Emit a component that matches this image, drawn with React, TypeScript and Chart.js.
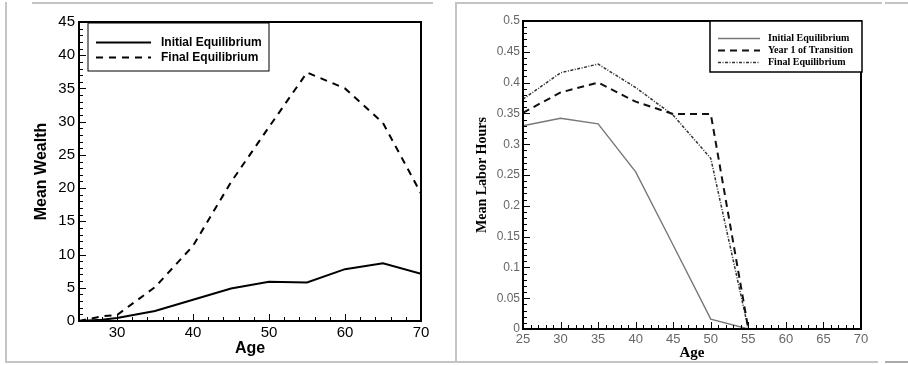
import React, { useEffect, useRef } from "react";
import { Chart, registerables } from "chart.js";

Chart.register(...registerables);

// ---------- Left panel: Mean Wealth ----------
const wealthAges = [25, 28, 30, 35, 40, 45, 50, 55, 60, 65, 70];
const wealthInitial = [0, 0.2, 0.45, 1.5, 3.2, 4.9, 5.9, 5.8, 7.8, 8.7, 7.1];
const wealthFinal = [0, 0.7, 0.9, 5.1, 11.3, 20.9, 29.2, 37.4, 35.0, 29.8, 19.2];
const wealthXTicks = [30, 40, 50, 60, 70];
const wealthYTicks = [0, 5, 10, 15, 20, 25, 30, 35, 40, 45];

// ---------- Right panel: Mean Labor Hours ----------
const laborAges = [25, 30, 35, 40, 45, 50, 55];
const laborInitial = [0.33, 0.342, 0.333, 0.255, 0.136, 0.016, 0];
const laborYear1 = [0.351, 0.384, 0.4, 0.369, 0.349, 0.349, 0];
const laborFinal = [0.373, 0.416, 0.43, 0.392, 0.347, 0.277, 0];
const laborXTicks = [25, 30, 35, 40, 45, 50, 55, 60, 65, 70];
const laborYTicks = [0, 0.05, 0.1, 0.15, 0.2, 0.25, 0.3, 0.35, 0.4, 0.45, 0.5];

const SANS = "'Liberation Sans', Arial, sans-serif";
const SERIF = "'Liberation Serif', 'Times New Roman', serif";

const toPoints = (xs: number[], ys: number[]) => xs.map((x, i) => ({ x, y: ys[i] }));

function range(min: number, max: number, step: number) {
  const out: number[] = [];
  const n = Math.round((max - min) / step);
  for (let i = 0; i <= n; i++) out.push(+(min + i * step).toFixed(4));
  return out;
}

type TickCfg = {
  xMajor: number[];
  xMinor: number[];
  yMajor: number[];
  yMinor: number[];
  majorLen: number;
  minorLen: number;
  tickWidth: number;
  frameWidth: number;
};

function makeFrameTicks(o: TickCfg) {
  return {
    id: "frameTicks",
    afterDatasetsDraw(chart: any) {
      const { ctx, chartArea } = chart;
      const { left, right, top, bottom } = chartArea;
      const xs = chart.scales.x;
      const ys = chart.scales.y;
      ctx.save();
      ctx.strokeStyle = "#000";
      ctx.lineWidth = o.tickWidth;
      ctx.setLineDash([]);
      const drawX = (vals: number[], len: number) => {
        for (const v of vals) {
          const px = Math.round(xs.getPixelForValue(v)) + 0.5;
          ctx.beginPath();
          ctx.moveTo(px, bottom);
          ctx.lineTo(px, bottom - len);
          ctx.stroke();
        }
      };
      const drawY = (vals: number[], len: number) => {
        for (const v of vals) {
          const py = Math.round(ys.getPixelForValue(v)) + 0.5;
          ctx.beginPath();
          ctx.moveTo(left, py);
          ctx.lineTo(left + len, py);
          ctx.stroke();
        }
      };
      drawX(o.xMinor, o.minorLen);
      drawX(o.xMajor, o.majorLen);
      drawY(o.yMinor, o.minorLen);
      drawY(o.yMajor, o.majorLen);
      ctx.lineWidth = o.frameWidth;
      ctx.strokeRect(left, top, right - left, bottom - top);
      ctx.restore();
    },
  };
}

type LegCfg = {
  anchor: "left" | "right";
  dx: number;
  dy: number;
  width: number;
  height: number;
  boxWidth: number;
  firstRow: number;
  rowGap: number;
  sampleStart: number;
  sampleEnd: number;
  textX: number;
  font: string;
};

function makeBoxLegend(o: LegCfg) {
  return {
    id: "boxLegend",
    afterDraw(chart: any) {
      const { ctx, chartArea } = chart;
      const bx = o.anchor === "right" ? chartArea.right - o.width + o.dx : chartArea.left + o.dx;
      const by = chartArea.top + o.dy;
      ctx.save();
      ctx.fillStyle = "#fff";
      ctx.fillRect(bx, by, o.width, o.height);
      ctx.strokeStyle = "#000";
      ctx.lineWidth = o.boxWidth;
      ctx.setLineDash([]);
      ctx.strokeRect(bx, by, o.width, o.height);
      ctx.font = o.font;
      ctx.textBaseline = "middle";
      ctx.textAlign = "left";
      chart.data.datasets.forEach((ds: any, i: number) => {
        const y = Math.round(by + o.firstRow + i * o.rowGap) + 0.5;
        ctx.strokeStyle = ds.borderColor;
        ctx.lineWidth = ds.borderWidth;
        ctx.setLineDash(ds.borderDash || []);
        ctx.beginPath();
        ctx.moveTo(bx + o.sampleStart, y);
        ctx.lineTo(bx + o.sampleEnd, y);
        ctx.stroke();
        ctx.setLineDash([]);
        ctx.fillStyle = "#000";
        ctx.fillText(ds.label, bx + o.textX, y);
      });
      ctx.restore();
    },
  };
}

function WealthChart() {
  const ref = useRef<HTMLCanvasElement>(null);
  useEffect(() => {
    const chart = new Chart(ref.current as HTMLCanvasElement, {
      type: "line",
      data: {
        datasets: [
          {
            label: "Initial Equilibrium",
            data: toPoints(wealthAges, wealthInitial),
            borderColor: "#000",
            borderWidth: 2,
            pointRadius: 0,
            tension: 0,
          },
          {
            label: "Final Equilibrium",
            data: toPoints(wealthAges, wealthFinal),
            borderColor: "#000",
            borderWidth: 2,
            borderDash: [7, 6],
            pointRadius: 0,
            tension: 0,
          },
        ],
      },
      options: {
        animation: false,
        responsive: false,
        layout: { padding: { left: 0, right: 33, top: 22, bottom: 0 } },
        plugins: {
          legend: { display: false },
          tooltip: { enabled: false },
        },
        scales: {
          x: {
            type: "linear",
            min: 25,
            max: 70,
            afterFit: (a: any) => {
              a.height = 41;
            },
            afterBuildTicks: (a: any) => {
              a.ticks = wealthXTicks.map((v) => ({ value: v }));
            },
            grid: { display: false, drawTicks: false },
            border: { display: false },
            ticks: {
              autoSkip: false,
              maxRotation: 0,
              padding: 3,
              color: "#000",
              font: { family: SANS, size: 15 },
            },
            title: {
              display: true,
              text: "Age",
              color: "#000",
              font: { family: SANS, size: 16, weight: "bold" },
              padding: { top: 0, bottom: 4 },
            },
          },
          y: {
            type: "linear",
            min: 0,
            max: 45,
            afterFit: (a: any) => {
              a.width = 79;
            },
            afterBuildTicks: (a: any) => {
              a.ticks = wealthYTicks.map((v) => ({ value: v }));
            },
            grid: { display: false, drawTicks: false },
            border: { display: false },
            ticks: {
              autoSkip: false,
              padding: 4,
              color: "#000",
              font: { family: SANS, size: 15 },
            },
            title: {
              display: true,
              text: "Mean Wealth",
              color: "#000",
              font: { family: SANS, size: 16, weight: "bold" },
              padding: { top: 32, bottom: 0 },
            },
          },
        },
      },
      plugins: [
        makeFrameTicks({
          xMajor: wealthXTicks,
          xMinor: range(26, 70, 2),
          yMajor: wealthYTicks,
          yMinor: range(0, 45, 1),
          majorLen: 7,
          minorLen: 4,
          tickWidth: 1,
          frameWidth: 2,
        }),
        makeBoxLegend({
          anchor: "left",
          dx: 9,
          dy: 1,
          width: 181,
          height: 48,
          boxWidth: 1,
          firstRow: 19,
          rowGap: 15,
          sampleStart: 8,
          sampleEnd: 63,
          textX: 73,
          font: `bold 12px ${SANS}`,
        }),
      ],
    });
    return () => chart.destroy();
  }, []);
  return <canvas ref={ref} width={454} height={362} />;
}

function LaborChart() {
  const ref = useRef<HTMLCanvasElement>(null);
  useEffect(() => {
    const chart = new Chart(ref.current as HTMLCanvasElement, {
      type: "line",
      data: {
        datasets: [
          {
            label: "Initial Equilibrium",
            data: toPoints(laborAges, laborInitial),
            borderColor: "#777",
            borderWidth: 1.4,
            pointRadius: 0,
            tension: 0,
          },
          {
            label: "Year 1 of Transition",
            data: toPoints(laborAges, laborYear1),
            borderColor: "#111",
            borderWidth: 2,
            borderDash: [7, 5],
            pointRadius: 0,
            tension: 0,
          },
          {
            label: "Final Equilibrium",
            data: toPoints(laborAges, laborFinal),
            borderColor: "#333",
            borderWidth: 1.5,
            borderDash: [3, 1.5, 1, 1.5],
            pointRadius: 0,
            tension: 0,
          },
        ],
      },
      options: {
        animation: false,
        responsive: false,
        layout: { padding: { left: 0, right: 45, top: 21, bottom: 0 } },
        plugins: {
          legend: { display: false },
          tooltip: { enabled: false },
        },
        scales: {
          x: {
            type: "linear",
            min: 25,
            max: 70,
            afterFit: (a: any) => {
              a.height = 33;
            },
            afterBuildTicks: (a: any) => {
              a.ticks = laborXTicks.map((v) => ({ value: v }));
            },
            grid: { display: false, drawTicks: false },
            border: { display: false },
            ticks: {
              autoSkip: false,
              maxRotation: 0,
              padding: 3,
              color: "#666",
              font: { family: SANS, size: 13 },
            },
            title: {
              display: true,
              text: "Age",
              color: "#000",
              font: { family: SERIF, size: 15, weight: "bold" },
              padding: { top: 0, bottom: 0 },
            },
          },
          y: {
            type: "linear",
            min: 0,
            max: 0.5,
            afterFit: (a: any) => {
              a.width = 67;
            },
            afterBuildTicks: (a: any) => {
              a.ticks = laborYTicks.map((v) => ({ value: v }));
            },
            grid: { display: false, drawTicks: false },
            border: { display: false },
            ticks: {
              autoSkip: false,
              padding: 3,
              color: "#666",
              font: { family: SANS, size: 12 },
              callback: (v: any) => String(+Number(v).toFixed(2)),
            },
            title: {
              display: true,
              text: "Mean Labor Hours",
              color: "#000",
              font: { family: SERIF, size: 14, weight: "bold" },
              padding: { top: 18, bottom: 0 },
            },
          },
        },
      },
      plugins: [
        makeFrameTicks({
          xMajor: laborXTicks,
          xMinor: range(25, 70, 1),
          yMajor: laborYTicks,
          yMinor: range(0, 0.5, 0.01),
          majorLen: 7,
          minorLen: 4,
          tickWidth: 1,
          frameWidth: 2,
        }),
        makeBoxLegend({
          anchor: "right",
          dx: 1,
          dy: 0,
          width: 152,
          height: 51,
          boxWidth: 1.5,
          firstRow: 17,
          rowGap: 12,
          sampleStart: 8,
          sampleEnd: 50,
          textX: 58,
          font: `bold 10px ${SERIF}`,
        }),
      ],
    });
    return () => chart.destroy();
  }, []);
  return <canvas ref={ref} width={450} height={362} />;
}

const line = (x: number, y: number, w: number, h: number, c = "#c4c4c4") => (
  <div style={{ position: "absolute", left: x, top: y, width: w, height: h, background: c }} />
);

export default function App() {
  return (
    <div style={{ position: "absolute", left: 0, top: 0, width: 908, height: 365, background: "#fff", overflow: "hidden" }}>
      <div style={{ position: "absolute", left: 0, top: 0 }}>
        <WealthChart />
      </div>
      <div style={{ position: "absolute", left: 456, top: 0 }}>
        <LaborChart />
      </div>
      {line(32, 2, 401, 2)}
      {line(455, 2, 427, 2)}
      {line(885, 2, 23, 2)}
      {line(5, 361, 873, 2)}
      {line(885, 361, 23, 2, "#aaa")}
      {line(5, 2, 2, 361)}
      {line(455, 2, 2, 361)}
    </div>
  );
}
